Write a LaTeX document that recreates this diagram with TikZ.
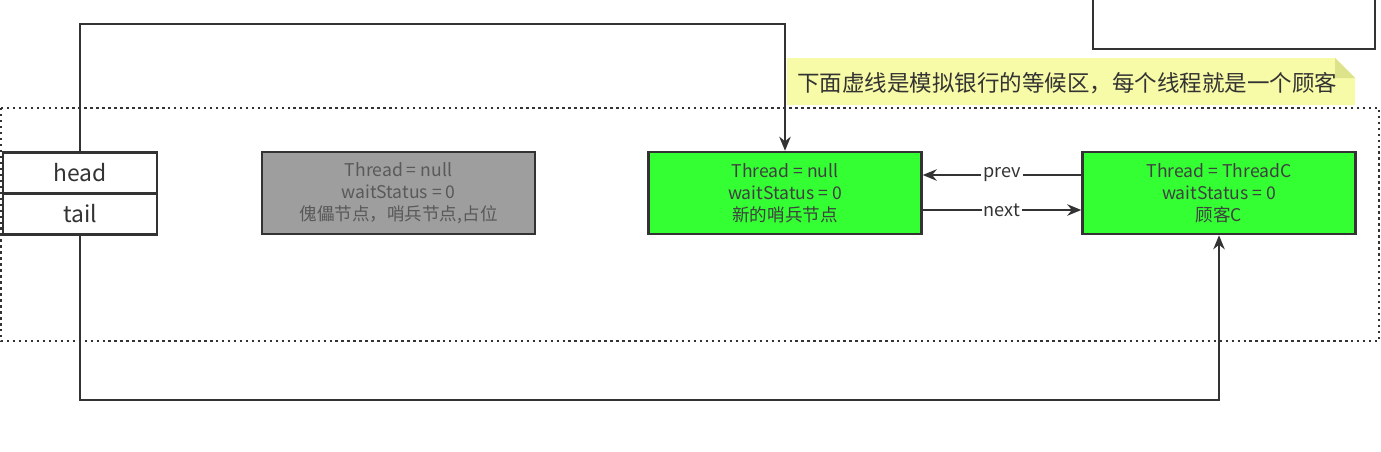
\documentclass[tikz,border=0pt]{standalone}
\usepackage{fontspec}
\setmainfont{Noto Sans CJK SC}
\usetikzlibrary{arrows.meta,positioning}
\definecolor{nodegreen}{HTML}{33FF33}
\definecolor{dummygray}{HTML}{9E9E9E}
\definecolor{noteyellow}{HTML}{F7FAA6}
\definecolor{notefold}{HTML}{DDE38A}
\definecolor{linegray}{HTML}{333333}

\begin{document}
\begin{tikzpicture}[x=0.02cm,y=-0.02cm,
		qbox/.style={draw=linegray,line width=1.4pt,minimum width=5.46cm,minimum height=1.64cm,
			align=center,inner sep=0pt,font=\fontsize{10}{12.5}\selectfont,text=black!75},
		ptrbox/.style={draw=linegray,line width=1.4pt,fill=white,minimum width=3.08cm,
			minimum height=0.82cm,inner sep=0pt,font=\fontsize{13}{15}\selectfont,text=black!80},
		link/.style={draw=linegray,line width=1.3pt,-{Stealth[length=8pt,width=6.5pt]}},
		linklabel/.style={fill=white,inner sep=1pt,font=\fontsize{10.3}{12}\selectfont,text=black!80}]
		\useasboundingbox (0,0) rectangle (1381,451);
		\clip (0,0) rectangle (1381,451);
		% box at the top right, cut off
		\draw[linegray,line width=1.4pt] (1093,-10) rectangle (1375,49);
		% note
		\fill[noteyellow] (787,58) -- (1335,58) -- (1355,78) -- (1355,105) -- (787,105) -- cycle;
		\fill[notefold] (1335,58) -- (1335,78) -- (1355,78) -- cycle;
		\node[anchor=west,inner sep=0pt,font=\fontsize{12.8}{15}\selectfont,text=black!80] (note) at (797,83)
			{下面虚线是模拟银行的等候区，每个线程就是一个顾客};
		% waiting area
		\draw[linegray,line width=1.4pt,dotted] (1,108) rectangle (1379,341);
		% head / tail
		\node[ptrbox] (head) at (80,173) {head};
		\node[ptrbox] (tail) at (80,214) {tail};
		% nodes
		\node[qbox,fill=dummygray,text=black!65] (dummy) at (398.5,193)
			{Thread = null\\waitStatus = 0\\傀儡节点，哨兵节点,占位};
		\node[qbox,fill=nodegreen] (sentinel) at (785,193)
			{Thread = null\\waitStatus = 0\\新的哨兵节点};
		\node[qbox,fill=nodegreen] (custC) at (1219,193)
			{Thread = ThreadC\\waitStatus = 0\\顾客C};
		% pointers
		\draw[link] (head.north) -- (80,24) -| (sentinel.north);
		\draw[link] (tail.south) -- (80,400) -| (custC.south);
		\draw[link] (custC.west |- 0,175) -- node[linklabel] (prev) {prev} (sentinel.east |- 0,175);
		\draw[link] (sentinel.east |- 0,210) -- node[linklabel] (next) {next} (custC.west |- 0,210);
	\end{tikzpicture}
\end{document}
